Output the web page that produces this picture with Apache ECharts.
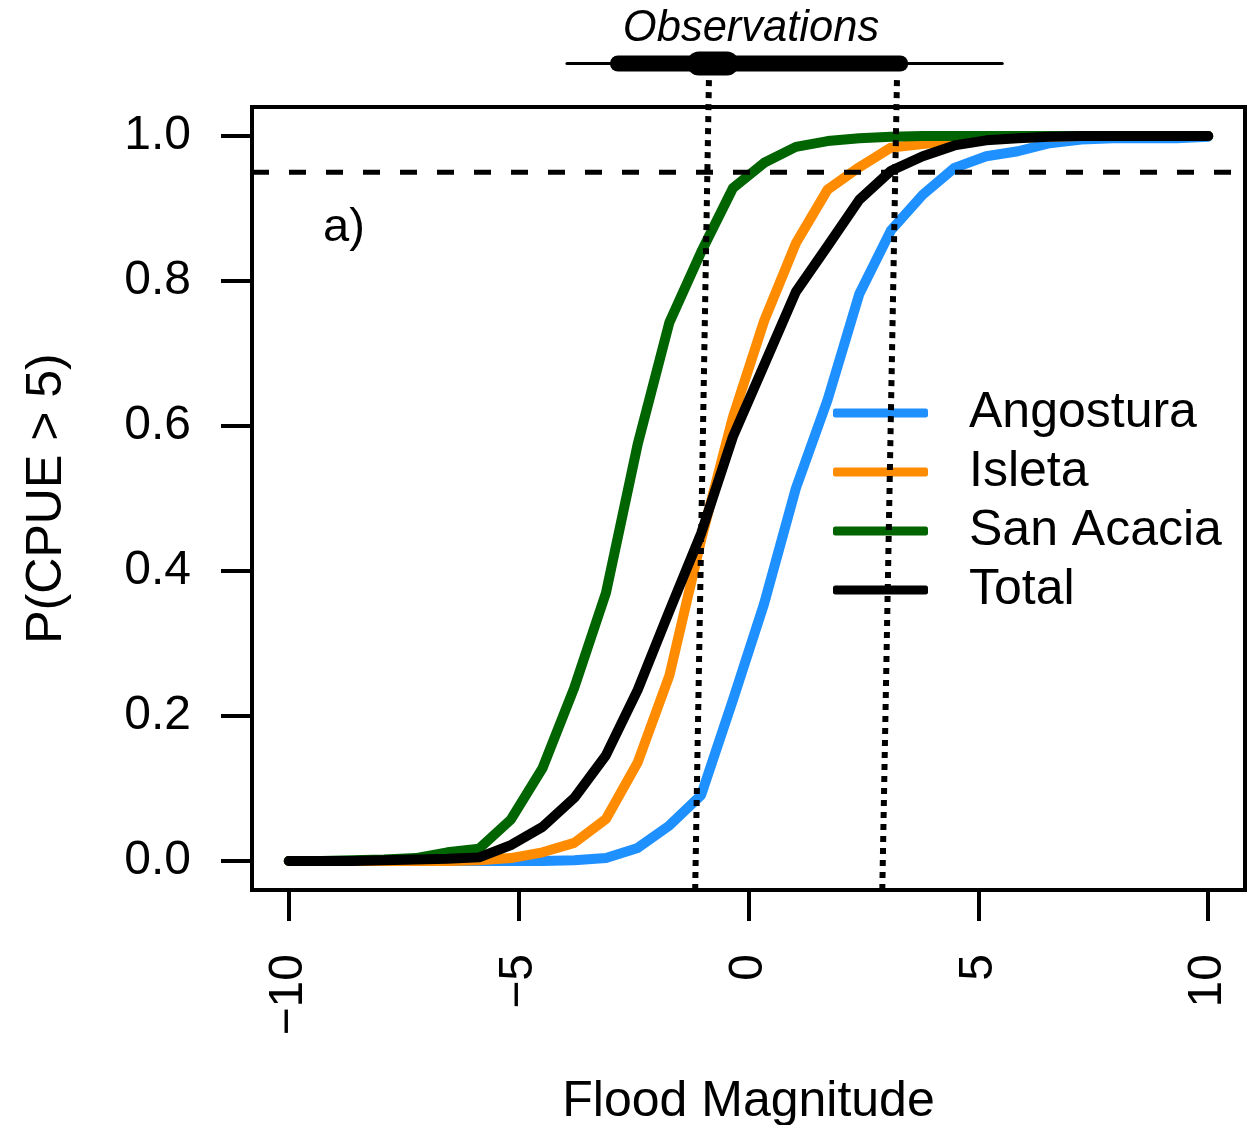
<!DOCTYPE html>
<html>
<head>
<meta charset="utf-8">
<title>P(CPUE > 5) vs Flood Magnitude</title>
<script src="https://cdn.jsdelivr.net/npm/echarts@6/dist/echarts.min.js"></script>
<style>
  html, body { margin: 0; padding: 0; background: #fff; }
  #main { width: 1259px; height: 1125px; }
</style>
</head>
<body>
<div id="main"></div>
<script type="text/javascript">
// flood magnitude grid (30 points)
var floodX = [-10, -9.31, -8.62, -7.93, -7.24, -6.55, -5.86, -5.17, -4.48, -3.79,
  -3.10, -2.41, -1.72, -1.03, -0.34, 0.34, 1.03, 1.72, 2.41, 3.10,
  3.79, 4.48, 5.17, 5.86, 6.55, 7.24, 7.93, 8.62, 9.31, 10];

var angostura = [0, 0, 0, 0, 0, 0, 0, 0, 0, 0.001,
  0.004, 0.018, 0.049, 0.091, 0.222, 0.355, 0.514, 0.636, 0.782, 0.870,
  0.919, 0.956, 0.972, 0.979, 0.990, 0.995, 0.997, 0.997, 0.997, 0.999];
var isleta = [0, 0, 0, 0, 0, 0, 0.001, 0.004, 0.012, 0.025,
  0.058, 0.136, 0.256, 0.443, 0.612, 0.745, 0.852, 0.926, 0.957, 0.984,
  0.989, 0.993, 0.996, 0.998, 0.999, 1, 1, 1, 1, 1];
var sanAcacia = [0, 0, 0.001, 0.002, 0.004, 0.012, 0.017, 0.057, 0.128, 0.239,
  0.370, 0.575, 0.743, 0.840, 0.928, 0.963, 0.985, 0.993, 0.997, 0.999,
  1, 1, 1, 1, 1, 1, 1, 1, 1, 1];
var total = [0, 0, 0, 0.001, 0.002, 0.003, 0.005, 0.022, 0.047, 0.087,
  0.146, 0.236, 0.345, 0.452, 0.585, 0.684, 0.785, 0.848, 0.912, 0.952,
  0.972, 0.987, 0.994, 0.997, 0.999, 1, 1, 1, 1, 1];

var seriesNames = ['Angostura', 'Isleta', 'San Acacia', 'Total'];
var seriesColors = ['#1e90ff', '#ff8c00', '#006400', '#000000'];

var xTicks = [-10, -5, 0, 5, 10];
var yTicks = [0, 0.2, 0.4, 0.6, 0.8, 1.0];
var threshold = 0.95;

// observations summary bar (top strip)
var obsThin = [-3.95, 5.52];
var obsThick = [-2.84, 3.30];
var obsMid = [-1.08, -0.47];
var obsLevel = 1.10;
// dotted reference lines: [x at bottom, x at top]
var refLines = [[-1.16, -0.86], [2.91, 3.23]];
var refBottom = -0.04, refTop = 1.08;

var FONT = 'Liberation Sans, Arial, Helvetica, sans-serif';
var chart = echarts.init(document.getElementById('main'));

function pairs(xs, ys) {
  return xs.map(function (x, i) { return [x, ys[i]]; });
}

var curveData = [angostura, isleta, sanAcacia, total];
var series = curveData.map(function (vals, k) {
  return {
    name: seriesNames[k],
    type: 'line',
    xAxisIndex: 0, yAxisIndex: 0,
    data: pairs(floodX, vals),
    symbol: 'none',
    color: seriesColors[k],
    lineStyle: { width: 10, color: seriesColors[k], cap: 'round', join: 'round' },
    z: 3 + k,
    animation: false
  };
});

series.push({
  type: 'line', xAxisIndex: 0, yAxisIndex: 0,
  data: [[-10.8, threshold], [10.8, threshold]],
  symbol: 'none',
  lineStyle: { width: 5, color: '#000', type: [17, 20] },
  z: 10, animation: false
});

refLines.forEach(function (r) {
  series.push({
    type: 'line', xAxisIndex: 1, yAxisIndex: 1,
    data: [[r[0], refBottom], [r[1], refTop]],
    symbol: 'none',
    lineStyle: { width: 6, color: '#000', type: [6, 6] },
    z: 11, animation: false
  });
});

[[obsThin, 3], [obsThick, 16], [obsMid, 24]].forEach(function (b) {
  series.push({
    type: 'line', xAxisIndex: 1, yAxisIndex: 1,
    data: [[b[0][0], obsLevel], [b[0][1], obsLevel]],
    symbol: 'none',
    lineStyle: { width: b[1], color: '#000', cap: 'round' },
    z: 12, animation: false
  });
});

chart.setOption({
  animation: false,
  backgroundColor: '#fff',
  textStyle: { fontFamily: FONT },
  title: [{
    text: 'Observations',
    left: 746, top: 2, textAlign: 'center',
    textStyle: { fontFamily: FONT, fontStyle: 'italic', fontWeight: 'normal', fontSize: 43.5, color: '#000' }
  }, {
    text: 'a)',
    left: 318, top: 200,
    textStyle: { fontFamily: FONT, fontWeight: 'normal', fontSize: 47, color: '#000' }
  }],
  legend: {
    data: seriesNames,
    orient: 'vertical',
    left: 828, top: 383,
    icon: 'roundRect',
    itemWidth: 95, itemHeight: 9,
    itemGap: 9,
    selectedMode: false,
    textStyle: { fontFamily: FONT, fontSize: 50, color: '#000', lineHeight: 50, padding: [0, 0, 0, 36] }
  },
  grid: [{
    left: 252, right: 14, top: 107, bottom: 235,
    outerBoundsMode: 'none',
    show: true, borderColor: '#000', borderWidth: 4, backgroundColor: 'transparent'
  }, {
    left: 252, right: 14, top: 0, bottom: 235,
    outerBoundsMode: 'none', show: false
  }],
  xAxis: [{
    type: 'value', gridIndex: 0, min: -10.8, max: 10.8,
    splitLine: { show: false },
    axisLine: { show: false, onZero: false },
    axisTick: { show: true, length: 31, lineStyle: { width: 4, color: '#000' }, customValues: xTicks },
    axisLabel: {
      customValues: xTicks, rotate: 90, margin: 64,
      fontFamily: FONT, fontSize: 48, color: '#000',
      formatter: function (v) { return String(v).replace('-', '\u2212'); }
    },
    name: 'Flood Magnitude', nameLocation: 'middle', nameGap: 187,
    nameTextStyle: { fontFamily: FONT, fontSize: 50, color: '#000' }
  }, {
    type: 'value', gridIndex: 1, min: -10.8, max: 10.8, show: false
  }],
  yAxis: [{
    type: 'value', gridIndex: 0, min: -0.04, max: 1.04,
    splitLine: { show: false },
    axisLine: { show: false, onZero: false },
    axisTick: { show: true, length: 31, lineStyle: { width: 4, color: '#000' }, customValues: yTicks },
    axisLabel: {
      customValues: yTicks, margin: 61,
      fontFamily: FONT, fontSize: 48, color: '#000',
      formatter: function (v) { return v.toFixed(1); }
    },
    name: 'P(CPUE > 5)', nameLocation: 'middle', nameRotate: 90, nameGap: 180,
    nameTextStyle: { fontFamily: FONT, fontSize: 50, color: '#000' }
  }, {
    type: 'value', gridIndex: 1, min: -0.04, max: 1.1876, show: false
  }],
  series: series
});
</script>
</body>
</html>
